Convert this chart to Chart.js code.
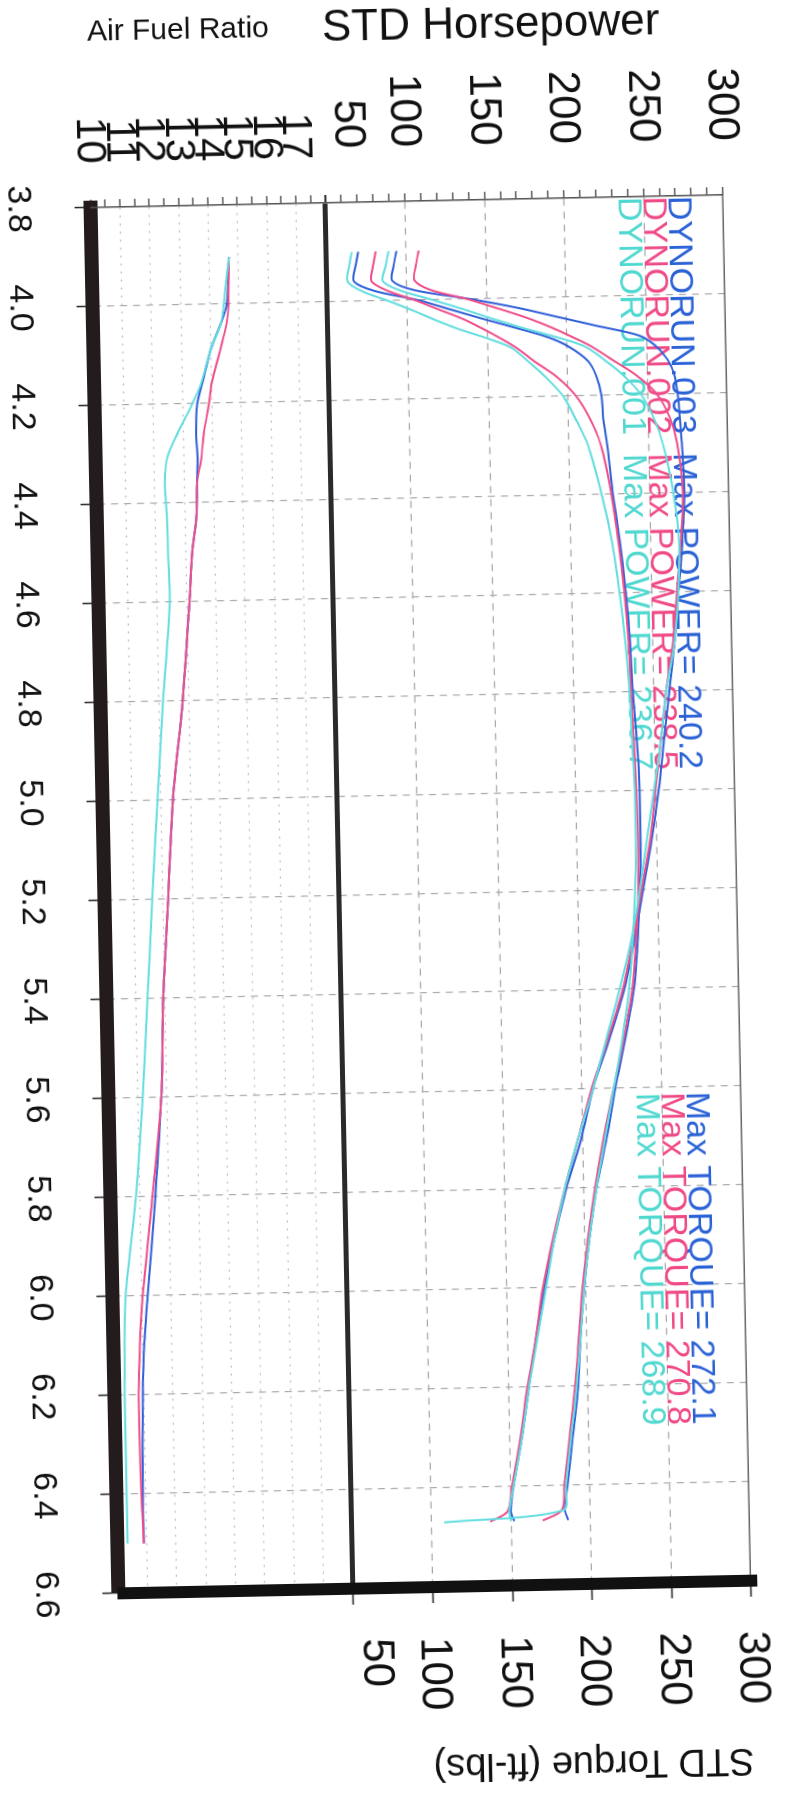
<!DOCTYPE html>
<html>
<head>
<meta charset="utf-8">
<title>Dyno runs</title>
<script src="https://cdn.jsdelivr.net/npm/chart.js@4.4.0/dist/chart.umd.min.js"></script>
<style>
  html, body { margin: 0; padding: 0; background: #fff; width: 809px; height: 1796px; overflow: hidden; }
  /* the sheet was scanned sideways and a little crooked */
  #wrap {
    position: absolute; left: -493.5px; top: 493.5px;
    width: 1796px; height: 809px;
    transform: rotate(88.85deg); transform-origin: 50% 50%;
    background: #fff;
  }
</style>
</head>
<body>
<div id="wrap"><canvas id="dyno"></canvas></div>
<script>
// engine speed, x 1000 rpm
const pwrRpm = [3.90, 3.93, 3.96, 3.98, 4.00, 4.02, 4.04, 4.06, 4.08, 4.10, 4.13, 4.16, 4.20, 4.25, 4.30,
  4.40, 4.50, 4.60, 4.70, 4.80, 4.90, 5.00, 5.10, 5.20, 5.30, 5.40, 5.50, 5.60, 5.70, 5.80, 5.90,
  6.00, 6.10, 6.20, 6.30, 6.40, 6.45, 6.47];

// STD horsepower
const hp003 = [70, 68, 67, 80, 107, 127, 147, 168, 188, 201, 213, 218, 221, 222, 224,
  227, 231, 234, 236, 237, 239, 240, 240, 239, 237, 234, 228, 221, 215, 208, 203,
  199, 196, 194, 190, 186, 184, 186];
const hp002 = [81, 79, 78, 88, 105, 120, 135, 147, 158, 168, 180, 193, 205, 214, 220,
  226, 230, 233, 235, 236, 237, 238, 238.5, 238, 236, 233, 227, 220, 213, 207, 202,
  198, 195, 192, 188, 184, 182, 170];
const hp001 = [66, 64, 63, 72, 88, 103, 117, 132, 150, 165, 176, 186, 197, 205, 212,
  220, 226, 230, 233, 235, 236, 237, 237, 236, 234, 231, 226, 220, 214, 208, 203,
  199, 196, 193, 189, 185, 183, 108];

// STD torque, ft-lbs
const tq003 = [94, 92, 91, 105, 140, 170, 195, 220, 245, 255, 263, 267, 269, 270, 271,
  272, 270, 267, 264, 260, 256, 252, 247, 241, 235, 228, 218, 207, 199, 189, 181,
  174, 168, 163, 158, 152, 150, 152];
const tq002 = [108, 106, 105, 115, 138, 157, 175, 190, 203, 215, 229, 243, 256, 264, 268,
  271, 269, 266, 263, 258, 254, 250, 246, 240, 234, 227, 217, 206, 197, 188, 180,
  173, 168, 162, 157, 151, 148, 137];
const tq001 = [89, 87, 85, 96, 116, 135, 153, 172, 193, 211, 224, 235, 246, 254, 259,
  265, 268, 267, 264, 258, 254, 249, 244, 239, 233, 225, 216, 207, 197, 188, 181,
  175, 169, 163, 158, 152, 149, 150];

// air fuel ratio
const afrRpm = [3.905, 4.00, 4.04, 4.09, 4.16, 4.20, 4.26, 4.31, 4.36, 4.43, 4.50, 4.60,
  4.80, 5.00, 5.20, 5.40, 5.60, 5.80, 6.00, 6.10, 6.20, 6.40, 6.50];
const afr003 = [14.67, 14.57, 14.35, 14.00, 13.68, 13.50, 13.44, 13.47, 13.44, 13.39, 13.23, 13.10,
  12.80, 12.40, 12.17, 11.93, 11.80, 11.53, 11.20, 11.05, 10.97, 10.90, 10.90];
const afr002 = [14.67, 14.63, 14.55, 14.33, 14.00, 13.90, 13.70, 13.60, 13.44, 13.39, 13.23, 13.10,
  12.80, 12.40, 12.17, 11.93, 11.80, 11.43, 11.03, 10.90, 10.83, 10.85, 10.90];
const afr001 = [14.67, 14.47, 14.35, 14.00, 13.64, 13.33, 12.80, 12.43, 12.34, 12.39, 12.40, 12.43,
  12.13, 11.87, 11.63, 11.40, 11.17, 10.87, 10.45, 10.38, 10.35, 10.35, 10.35];

const runNames = ['DYNORUN.003', 'DYNORUN.002', 'DYNORUN.001'];
const maxPower = ['240.2', '238.5', '236.7'];
const maxTorque = ['272.1', '270.8', '268.9'];

// the software nudges the lowest HP / torque label off its tick
const nudgedTick = 50;

const BLUE = '#2f5fd8';
const PINK = '#ef4d8a';
const CYAN = '#62dde0';
const textColors = ['#2a62d6', '#f04a86', '#4fd8d0'];
const FONT = '"Liberation Sans", Arial, Helvetica, sans-serif';
const NONE = 'rgba(0,0,0,0)';

Chart.defaults.font.family = FONT;
Chart.defaults.color = '#111';

function pts(xs, ys) {
  return xs.map((x, i) => ({ x: x, y: ys[i] }));
}

function line(data, axis, color) {
  return {
    data: data,
    yAxisID: axis,
    borderColor: color,
    borderWidth: 2,
    pointRadius: 0,
    tension: 0.3,
    fill: false
  };
}

// "Max POWER / Max TORQUE" notes and the two nudged "50" labels
const notes = {
  id: 'notes',
  beforeDatasetsDraw(chart) {
    const ctx = chart.ctx;
    const area = chart.chartArea;
    const x = chart.scales.x;
    ctx.save();
    ctx.font = '34px ' + FONT;
    ctx.textBaseline = 'alphabetic';
    ctx.textAlign = 'left';
    for (let i = 0; i < runNames.length; i++) {
      const y = area.top + 55 + i * 25;
      ctx.fillStyle = textColors[i];
      ctx.fillText(runNames[i] + '  Max POWER= ' + maxPower[i], x.getPixelForValue(3.8), y);
      ctx.fillText('Max TORQUE= ' + maxTorque[i], x.getPixelForValue(5.61), y);
    }
    ctx.restore();
  },
  afterDraw(chart) {
    const ctx = chart.ctx;
    const hp = chart.scales.hp;
    const tq = chart.scales.tq;
    ctx.save();
    ctx.font = '44px ' + FONT;
    ctx.fillStyle = '#111';
    ctx.textBaseline = 'middle';
    ctx.textAlign = 'right';
    ctx.fillText(String(nudgedTick), hp.right - 8 - 46, hp.getPixelForValue(nudgedTick) - 23);
    ctx.textAlign = 'left';
    ctx.fillText(String(nudgedTick), tq.left + 16 + 34, tq.getPixelForValue(nudgedTick) - 21);
    ctx.restore();
  }
};

const ctx = document.getElementById('dyno').getContext('2d');
const dynoChart = new Chart(ctx, {
  type: 'line',
  data: {
    datasets: [
      line(pts(afrRpm, afr001), 'afr', CYAN),
      line(pts(afrRpm, afr002), 'afr', PINK),
      line(pts(afrRpm, afr003), 'afr', BLUE),
      line(pts(pwrRpm, hp001), 'hp', CYAN),
      line(pts(pwrRpm, tq001), 'tq', CYAN),
      line(pts(pwrRpm, hp002), 'hp', PINK),
      line(pts(pwrRpm, tq002), 'tq', PINK),
      line(pts(pwrRpm, hp003), 'hp', BLUE),
      line(pts(pwrRpm, tq003), 'tq', BLUE)
    ]
  },
  options: {
    responsive: true,
    maintainAspectRatio: false,
    animation: false,
    layout: { padding: 0 },
    plugins: {
      legend: { display: false },
      tooltip: { enabled: false },
      title: { display: false }
    },
    scales: {
      x: {
        type: 'linear',
        position: 'bottom',
        min: 3.8,
        max: 6.6,
        ticks: {
          stepSize: 0.2,
          autoSkip: false,
          maxRotation: 0,
          padding: 36,
          font: { size: 34 },
          callback: (v) => v.toFixed(1)
        },
        grid: { color: '#a8a8a8', lineWidth: 1.2, tickLength: 16, tickColor: '#222', tickWidth: 1.5 },
        border: { color: '#241c1c', width: 14, dash: [7, 6] },
        afterFit: (s) => { s.height = 104; }
      },
      xTop: {
        type: 'linear',
        position: 'top',
        min: 3.8,
        max: 6.6,
        ticks: { display: false },
        grid: { drawOnChartArea: false, drawTicks: false },
        border: { color: '#666', width: 1.5 },
        afterFit: (s) => { s.height = 48; }
      },
      afr: {
        type: 'linear',
        position: 'left',
        stack: 'left',
        stackWeight: 244,
        min: 10,
        max: 18,
        ticks: {
          stepSize: 0.5,
          autoSkip: false,
          padding: 36,
          font: { size: 42 },
          callback: (v) => (Number.isInteger(v) && v < 18) ? v : ''
        },
        grid: {
          color: (c) => {
            const v = c.tick ? c.tick.value : 0;
            if (v === 18) return '#2a2a2a';
            return (Number.isInteger(v) && v > 10) ? '#bdbdbd' : NONE;
          },
          lineWidth: (c) => (c.tick && c.tick.value === 18) ? 5 : 1.2,
          tickLength: 8,
          tickColor: '#333',
          tickWidth: 1.2
        },
        border: {
          color: '#555',
          width: 1.5,
          dash: (c) => (c.tick && c.tick.value === 18) ? [] : [2, 6]
        },
        title: {
          display: true,
          text: 'Air Fuel Ratio',
          align: 'start',
          font: { size: 30 },
          color: '#111',
          padding: { top: 8, bottom: 0 }
        },
        afterFit: (s) => { s.width = 201; }
      },
      hp: {
        type: 'linear',
        position: 'left',
        stack: 'left',
        stackWeight: 413,
        min: 50,
        max: 300,
        ticks: {
          stepSize: 10,
          autoSkip: false,
          padding: 46,
          font: { size: 44 },
          callback: (v) => (v % 50 === 0 && v !== nudgedTick) ? v : ''
        },
        grid: {
          color: (c) => {
            const v = c.tick ? c.tick.value : 0;
            return (v % 50 === 0 && v > 50 && v < 300) ? '#a8a8a8' : NONE;
          },
          lineWidth: 1.2,
          tickLength: 8,
          tickColor: '#333',
          tickWidth: 1.2
        },
        border: { color: '#555', width: 1.5, dash: [7, 6] },
        title: {
          display: true,
          text: 'STD Horsepower',
          align: 'start',
          font: { size: 44 },
          color: '#111',
          padding: { top: 0, bottom: 0 }
        },
        afterFit: (s) => { s.width = 201; }
      },
      tq: {
        type: 'linear',
        position: 'right',
        stack: 'right',
        stackWeight: 413,
        min: 50,
        max: 300,
        ticks: {
          stepSize: 50,
          autoSkip: false,
          padding: 34,
          font: { size: 44 },
          callback: (v) => (v !== nudgedTick) ? v : ''
        },
        grid: { drawOnChartArea: false, tickLength: 16, tickColor: '#222', tickWidth: 1.5 },
        border: { color: '#111', width: 12 },
        title: {
          display: true,
          text: 'STD Torque (ft-lbs)',
          align: 'end',
          font: { size: 38 },
          color: '#111',
          padding: { top: 8, bottom: 0 }
        },
        afterFit: (s) => { s.width = 209; }
      },
      rlow: {
        type: 'linear',
        position: 'right',
        stack: 'right',
        stackWeight: 244,
        min: 0,
        max: 1,
        ticks: { display: false },
        grid: { drawOnChartArea: false, drawTicks: false },
        border: { color: '#111', width: 12 },
        afterFit: (s) => { s.width = 209; }
      }
    }
  },
  plugins: [notes]
});
</script>
</body>
</html>
